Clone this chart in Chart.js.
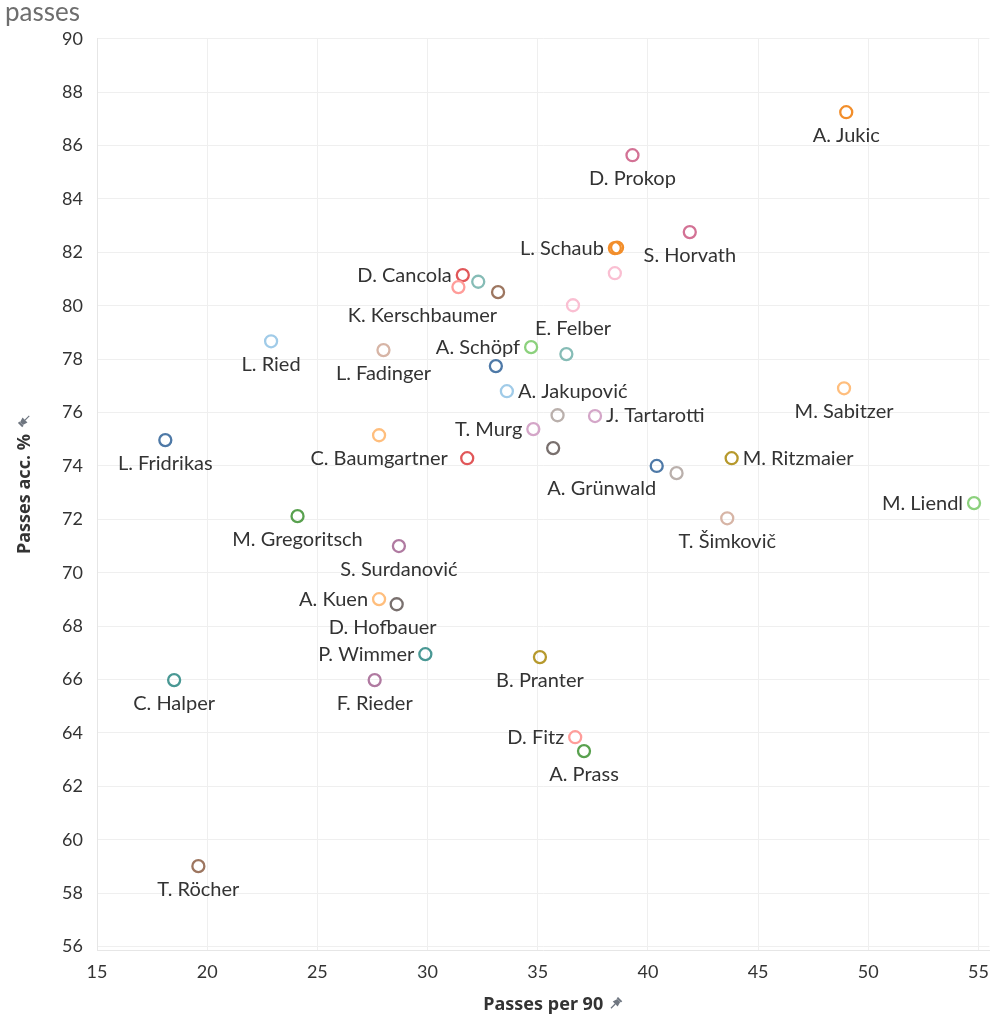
<!DOCTYPE html>
<html>
<head>
<meta charset="utf-8">
<script src="https://cdn.jsdelivr.net/npm/chart.js@4.4.1/dist/chart.umd.min.js"></script>
<style>
  html, body { margin: 0; padding: 0; background: #fff; }
  #wrap { width: 1000px; height: 1020px; }
</style>
</head>
<body>
<div id="wrap"><canvas id="myChart" width="1000" height="1020"></canvas></div>
<script>
// one entry per player, '' = no label drawn
const players = [
  'A. Jukic', 'D. Prokop', 'S. Horvath', 'L. Schaub', '', '',
  'D. Cancola', 'K. Kerschbaumer', '', '', 'E. Felber',
  'L. Ried', 'L. Fadinger', 'A. Schöpf', '', '', 'A. Jakupović',
  '', 'J. Tartarotti', 'T. Murg', '', 'L. Fridrikas', 'C. Baumgartner', '',
  'M. Sabitzer', 'A. Grünwald', '', 'M. Ritzmaier', 'M. Liendl', 'T. Šimkovič',
  'M. Gregoritsch', 'S. Surdanović', 'A. Kuen', 'D. Hofbauer', 'P. Wimmer',
  'B. Pranter', 'C. Halper', 'F. Rieder', 'D. Fitz', 'A. Prass', 'T. Röcher'
];
const passesPer90 = [
  49.0, 39.3, 41.9, 38.5, 38.6, 38.5,
  31.6, 31.4, 32.3, 33.2, 36.6,
  22.9, 28.0, 34.7, 36.3, 33.1, 33.6,
  35.9, 37.6, 34.8, 35.7, 18.1, 27.8, 31.8,
  48.9, 40.4, 41.3, 43.8, 54.8, 43.6,
  24.1, 28.7, 27.8, 28.6, 29.9,
  35.1, 18.5, 27.6, 36.7, 37.1, 19.6
];
const passAccuracy = [
  87.25, 85.64, 82.76, 82.16, 82.18, 81.22,
  81.15, 80.7, 80.9, 80.51, 80.02,
  78.67, 78.34, 78.45, 78.19, 77.74, 76.8,
  75.9, 75.87, 75.38, 74.67, 74.97, 75.15, 74.29,
  76.91, 74.0, 73.73, 74.29, 72.61, 72.04,
  72.12, 71.0, 69.01, 68.82, 66.95,
  66.84, 65.98, 65.98, 63.84, 63.32, 59.01
];
const pointColors = [
  '#f28e2b', '#d37295', '#d37295', '#f28e2b', '#f28e2b', '#fabfd2',
  '#e15759', '#ff9d9a', '#86bcb6', '#9d7660', '#fabfd2',
  '#a0cbe8', '#d7b5a6', '#8cd17d', '#86bcb6', '#4e79a7', '#a0cbe8',
  '#bab0ac', '#d4a6c8', '#d4a6c8', '#79706e', '#4e79a7', '#ffbe7d', '#e15759',
  '#ffbe7d', '#4e79a7', '#bab0ac', '#b6992d', '#8cd17d', '#d7b5a6',
  '#59a14f', '#b07aa1', '#ffbe7d', '#79706e', '#499894',
  '#b6992d', '#499894', '#b07aa1', '#ff9d9a', '#59a14f', '#9d7660'
];
// where each name sits relative to its mark
const labelSide = [
  'below', 'below', 'below', 'left', '', '',
  'left', 'below', '', '', 'below',
  'below', 'below', 'left', '', '', 'right',
  '', 'right', 'left', '', 'below', 'below', '',
  'below', 'below', '', 'right', 'left', 'below',
  'below', 'below', 'left', 'below', 'left',
  'below', 'below', 'below', 'left', 'below', 'below'
];
const labelNudge = { 'K. Kerschbaumer': [-36, 5], 'A. Grünwald': [-55, 0], 'D. Hofbauer': [-14, 0] };

const xTicks = [15, 20, 25, 30, 35, 40, 45, 50, 55];
const yTicks = [56, 58, 60, 62, 64, 66, 68, 70, 72, 74, 76, 78, 80, 82, 84, 86, 88, 90];

const FONT = 'Lato, "Open Sans", sans-serif';
const TITLE_FONT = '"Noto Sans", "Open Sans", sans-serif';

function drawPin(c, x, y, angle) {
  c.save();
  c.translate(x, y);
  c.rotate(angle);
  c.fillStyle = '#6f7680';
  c.strokeStyle = '#6f7680';
  c.lineWidth = 1.2;
  // head
  c.fillRect(-3, -7, 6, 2);
  c.beginPath();
  c.moveTo(-2, -5); c.lineTo(2, -5); c.lineTo(3.5, 0); c.lineTo(-3.5, 0);
  c.closePath(); c.fill();
  // needle
  c.beginPath(); c.moveTo(0, 0); c.lineTo(0, 6); c.stroke();
  c.restore();
}

const playerLabels = {
  id: 'playerLabels',
  afterDatasetsDraw(chart) {
    const c = chart.ctx;
    const meta = chart.getDatasetMeta(0);
    c.save();
    c.font = '20px ' + FONT;
    c.fillStyle = '#333333';
    c.textBaseline = 'middle';
    meta.data.forEach(function (pt, i) {
      const name = players[i];
      const side = labelSide[i];
      if (!name || !side) return;
      let x = pt.x, y = pt.y;
      if (side === 'below') { c.textAlign = 'center'; y += 23; }
      else if (side === 'left') { c.textAlign = 'right'; x -= 11; }
      else { c.textAlign = 'left'; x += 11; }
      const n = labelNudge[name];
      if (n) { x += n[0]; y += n[1]; }
      c.fillText(name, x, y);
    });
    c.restore();
  },
  afterDraw(chart) {
    const c = chart.ctx;
    const xs = chart.scales.x, ys = chart.scales.y;
    c.save();
    c.font = 'bold 18px ' + TITLE_FONT;
    const wx = c.measureText(xs.options.title.text).width;
    const wy = c.measureText(ys.options.title.text).width;
    const cx = (xs.left + xs.right) / 2;
    drawPin(c, cx + wx / 2 + 12, 1004, Math.PI / 4);
    const cy = (ys.top + ys.bottom) / 2;
    drawPin(c, 25, cy - wy / 2 - 14, -Math.PI / 4 - Math.PI / 2);
    c.restore();
  }
};

const ctx = document.getElementById('myChart');
new Chart(ctx, {
  type: 'scatter',
  data: {
    datasets: [{
      data: passesPer90.map((v, i) => ({ x: v, y: passAccuracy[i] })),
      pointRadius: 6,
      pointBorderWidth: 2.3,
      pointBorderColor: pointColors,
      pointBackgroundColor: 'rgba(255,255,255,0)'
    }]
  },
  options: {
    responsive: false,
    animation: false,
    events: [],
    layout: { padding: { left: 5, right: 0, top: 0, bottom: 0 } },
    plugins: {
      legend: { display: false },
      tooltip: { enabled: false },
      title: {
        display: true,
        text: 'passes',
        align: 'start',
        color: '#6e6e6e',
        font: { family: FONT, size: 26, weight: 'normal', lineHeight: 1.0 },
        padding: { top: 0, bottom: 12 }
      }
    },
    scales: {
      x: {
        type: 'linear',
        min: 15,
        max: 55.5,
        afterBuildTicks: function (scale) { scale.ticks = xTicks.map(v => ({ value: v })); },
        afterFit: function (scale) { scale.height = 70; },
        grid: { color: '#efefef', drawTicks: false },
        border: { color: '#e6e6e6' },
        ticks: { padding: 11, color: '#333333', font: { family: FONT, size: 18 } },
        title: {
          display: true,
          text: 'Passes per 90',
          color: '#333333',
          font: { family: TITLE_FONT, size: 18, weight: 'bold' },
          padding: { top: 4, bottom: 4 }
        }
      },
      y: {
        type: 'linear',
        min: 55.87,
        max: 90.03,
        afterBuildTicks: function (scale) { scale.ticks = yTicks.map(v => ({ value: v })); },
        afterFit: function (scale) { scale.width = 92; },
        grid: { color: '#efefef', drawTicks: false },
        border: { color: '#e6e6e6' },
        ticks: { padding: 14, color: '#333333', font: { family: FONT, size: 18 } },
        title: {
          display: true,
          text: 'Passes acc. %',
          color: '#333333',
          font: { family: TITLE_FONT, size: 18, weight: 'bold' },
          padding: { top: 9, bottom: 9 }
        }
      }
    }
  },
  plugins: [playerLabels]
});
</script>
</body>
</html>
